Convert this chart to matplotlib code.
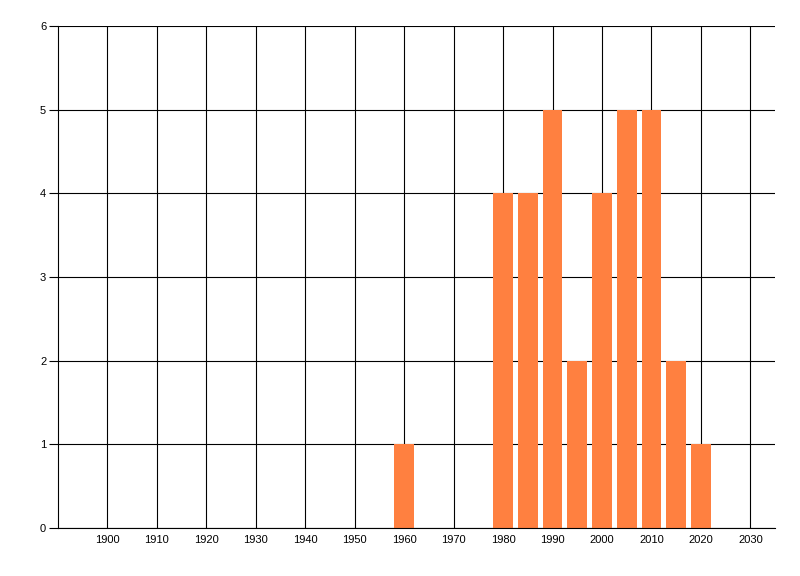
import matplotlib
matplotlib.use("Agg")
import matplotlib.pyplot as plt

plt.rcParams["font.family"] = ["Liberation Sans", "DejaVu Sans"]

# buckets (every 5 years) and how many items fall in each
years = [1960, 1980, 1985, 1990, 1995, 2000, 2005, 2010, 2015, 2020]
counts = [1, 4, 4, 5, 2, 4, 5, 5, 2, 1]

x_ticks = list(range(1900, 2031, 10))
y_ticks = [0, 1, 2, 3, 4, 5, 6]

fig = plt.figure(figsize=(8, 5.76), dpi=100)
ax = fig.add_axes([0.0725, 0.0833, 0.8963, 0.8716])

ax.bar(years, counts, width=4, color="#FF8040", zorder=3)

ax.set_xlim(1890, 2035)
ax.set_ylim(0, 6)
ax.set_xticks(x_ticks)
ax.set_yticks(y_ticks)
ax.grid(True, color="black", linewidth=0.8, zorder=0)
ax.set_axisbelow(True)

for side in ["top", "right"]:
    ax.spines[side].set_visible(False)
for side in ["left", "bottom"]:
    ax.spines[side].set_linewidth(0.8)
    ax.spines[side].set_zorder(4)

ax.tick_params(axis="x", length=0, pad=5, labelsize=8)
ax.tick_params(axis="y", length=6.5, width=0.8, pad=2, labelsize=8)

fig.savefig("out.png", dpi=100)
